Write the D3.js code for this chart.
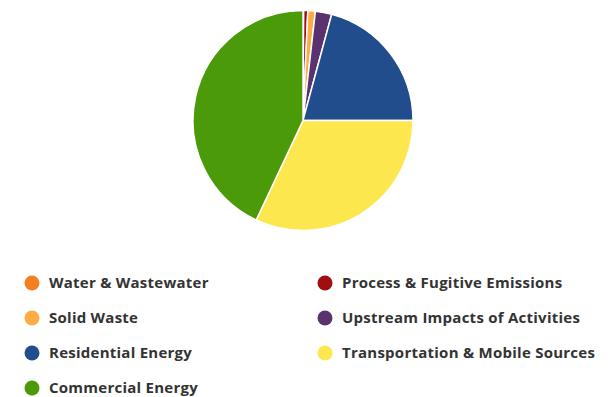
<!DOCTYPE html>
<meta charset="utf-8">
<style>
  body { margin: 0; background: #fff; }
  text { font-family: "Open Sans", sans-serif; }
</style>
<body>
  <div id="chart"></div>
  <script src="https://d3js.org/d3.v7.min.js"></script>
  <script>
    // data, in pie order (clockwise from 12 o'clock)
    var categories = ["Water & Wastewater", "Process & Fugitive Emissions", "Solid Waste",
      "Upstream Impacts of Activities", "Residential Energy",
      "Transportation & Mobile Sources", "Commercial Energy"];
    var values = [0.1, 0.6, 1.1, 2.4, 20.8, 32.0, 43.0];
    var colors = ["#f47f1f", "#a10e11", "#fbac45", "#5b3270", "#214d8c", "#fde74f", "#4a9a0a"];

    var width = 615, height = 397;
    var cx = 303, cy = 120.5, radius = 110;

    var data = categories.map(function(c, i) {
      return { name: c, value: values[i], color: colors[i] };
    });

    var svg = d3.select("#chart").append("svg")
      .attr("width", width)
      .attr("height", height);

    var pie = d3.pie()
      .sort(null)
      .value(function(d) { return d.value; });

    var arc = d3.arc()
      .innerRadius(0)
      .outerRadius(radius);

    svg.append("g")
      .attr("transform", "translate(" + cx + "," + cy + ")")
      .selectAll("path")
      .data(pie(data))
      .enter().append("path")
      .attr("d", arc)
      .style("fill", function(d) { return d.data.color; })
      .style("stroke", "#fff")
      .style("stroke-width", 1.5);

    // legend: two columns, row-major
    var colX = [32, 325], rowY0 = 283, rowStep = 35;

    var legend = svg.append("g")
      .selectAll("g")
      .data(data)
      .enter().append("g")
      .attr("transform", function(d, i) {
        return "translate(" + colX[i % 2] + "," + (rowY0 + Math.floor(i / 2) * rowStep) + ")";
      });

    legend.append("circle")
      .attr("r", 7.5)
      .style("fill", function(d) { return d.color; });

    legend.append("text")
      .attr("x", 17)
      .attr("dy", "0.35em")
      .style("font-size", "15px")
      .style("font-weight", "bold")
      .style("letter-spacing", "0.25px")
      .style("fill", "#333")
      .text(function(d) { return d.name; });
  </script>
</body>
